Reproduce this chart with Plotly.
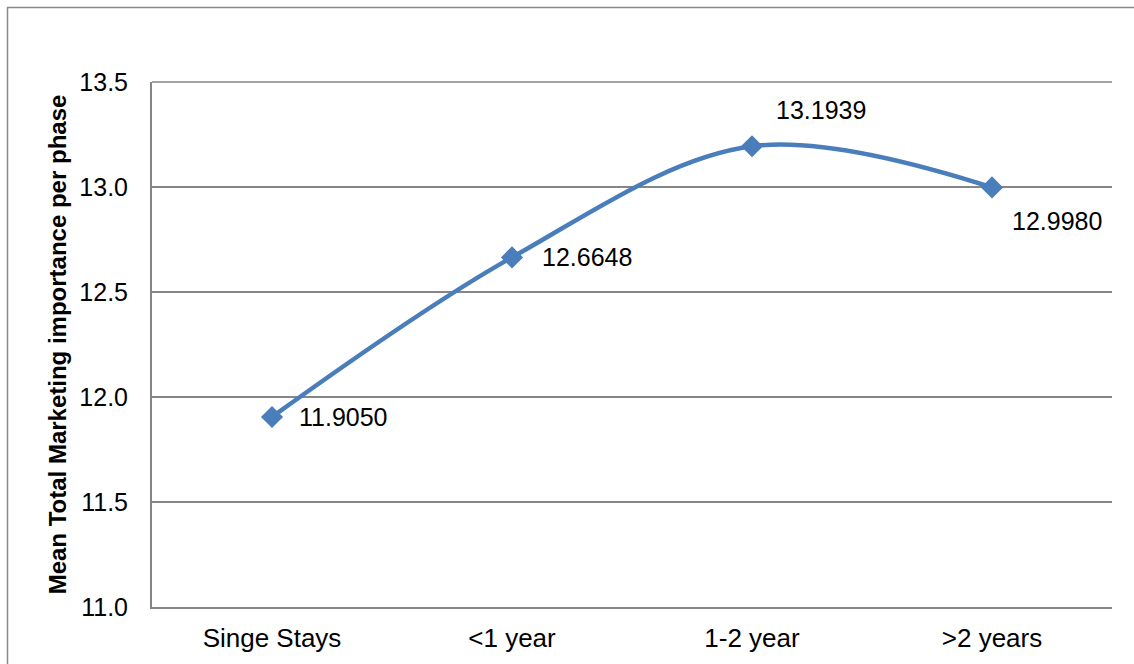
import plotly.graph_objects as go

categories = ["Singe Stays", "<1 year", "1-2 year", ">2 years"]
values = [11.9050, 12.6648, 13.1939, 12.9980]
labels = ["11.9050", "12.6648", "13.1939", "12.9980"]
y_ticks = [11.0, 11.5, 12.0, 12.5, 13.0, 13.5]

W, H = 1134, 664
L, R, T, B = 152, 22, 82, 57
pw, ph = W - L - R, H - T - B

FONT = "Liberation Sans, Arial"

fig = go.Figure()
fig.add_trace(go.Scatter(
    x=list(range(len(categories))), y=values, mode="lines+markers",
    line=dict(color="#4A7EBB", width=4.5, shape="spline", smoothing=1),
    marker=dict(symbol="diamond", size=17, color="#4A7EBB"),
    hoverinfo="skip", showlegend=False,
))

offsets = [(25, 0, "left"), (28, 0, "left"), (69, 36, "center"), (65, -34, "center")]
for i, (dx, dy, anc) in enumerate(offsets):
    fig.add_annotation(x=i, y=values[i], xref="x", yref="y", text=labels[i],
                       showarrow=False, xanchor=anc, yanchor="middle",
                       xshift=dx, yshift=dy,
                       font=dict(family=FONT, size=25, color="#000"))

def px_x(p):
    return (p - L) / pw

def px_y(p):
    return (H - B - p) / ph

border = dict(color="#888888", width=1.5)
fig.add_shape(type="line", xref="paper", yref="paper", x0=px_x(7), x1=px_x(1150),
              y0=px_y(7.5), y1=px_y(7.5), line=border, layer="above")
fig.add_shape(type="line", xref="paper", yref="paper", x0=px_x(7.5), x1=px_x(7.5),
              y0=px_y(7), y1=px_y(680), line=border, layer="above")

fig.update_layout(
    width=W, height=H,
    margin=dict(l=L, r=R, t=T, b=B),
    paper_bgcolor="white", plot_bgcolor="white",
    font=dict(family=FONT, size=25, color="#000"),
    xaxis=dict(
        range=[-0.5, 3.5], tickmode="array", tickvals=list(range(len(categories))),
        ticktext=categories, showgrid=False, zeroline=False, automargin=False,
        showline=True, linecolor="#868686", linewidth=2, ticks="",
        ticklabelstandoff=7, tickfont=dict(size=26),
    ),
    yaxis=dict(
        range=[11.0, 13.5], tickmode="array", tickvals=y_ticks,
        ticktext=[f"{v:.1f}" for v in y_ticks], automargin=False,
        showgrid=True, gridcolor="#868686", gridwidth=1.5, zeroline=False,
        showline=True, linecolor="#868686", linewidth=2, ticks="",
        ticklabelstandoff=17, tickfont=dict(size=25),
        title=dict(text="<b>Mean Total Marketing importance per phase</b>",
                   font=dict(size=24), standoff=6),
    ),
)
fig.add_shape(type="line", xref="paper", yref="paper", x0=0, x1=1, y0=1, y1=1,
              line=dict(color="#868686", width=1.5), layer="below")

fig.write_html("out.html")
